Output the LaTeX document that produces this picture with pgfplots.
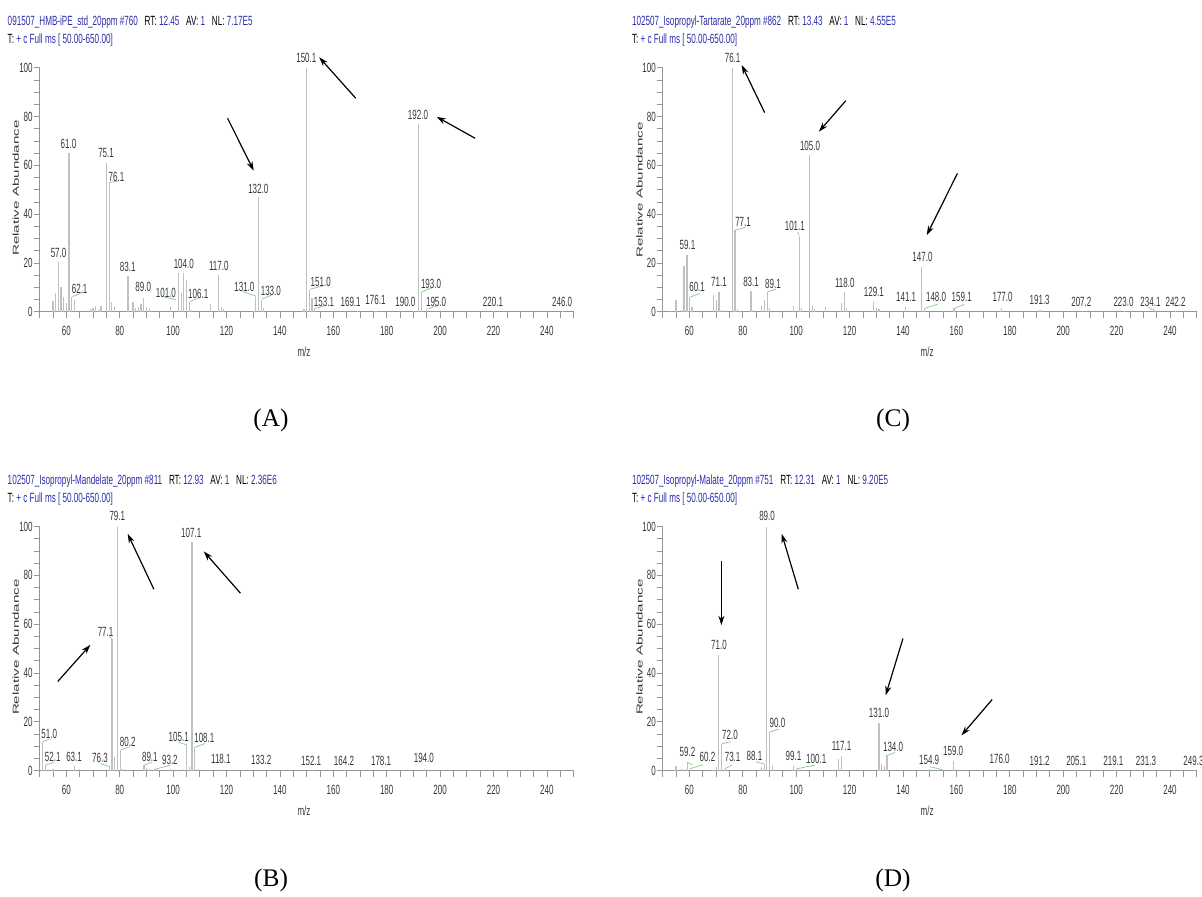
\documentclass[border=0pt]{standalone}
\usepackage{fontspec}
\setmainfont{Liberation Sans}
\newfontfamily\timesf{Liberation Serif}
\usepackage{pgfplots}
\pgfplotsset{compat=1.18}
\usetikzlibrary{arrows.meta}
\definecolor{ttlblue}{RGB}{45,45,170}
\definecolor{bargray}{RGB}{192,192,192}
\definecolor{axgray}{RGB}{150,150,150}
\definecolor{lblgray}{RGB}{55,55,55}
\definecolor{leadgreen}{RGB}{140,210,140}

\newcommand\cn[1]{\scalebox{0.6}[1]{#1}}
\newcommand\ttlA[3]{\scalebox{0.61}[1]{\textcolor{ttlblue}{#1}\ \ \ RT:\ \textcolor{ttlblue}{#2}\ \ \ AV:\ \textcolor{ttlblue}{1}\ \ \ NL:\ \textcolor{ttlblue}{#3}}}
\newcommand\ttlB{\scalebox{0.61}[1]{T:\ \textcolor{ttlblue}{+ c Full ms [ 50.00-650.00]}}}

\tikzset{
  plbl/.style={font=\fontsize{10}{10}\selectfont, text=lblgray, inner sep=0pt},
  arr/.style={-{Stealth[length=7pt,width=4.5pt]}, line width=0.9pt, black},
  lead/.style={leadgreen, line width=0.6pt},
}
\pgfplotsset{
  ms/.style={
    scale only axis, width=400.5pt, height=183pt,
    xmin=50, xmax=250, ymin=0, ymax=100,
    enlargelimits=false, clip=false,
    axis x line=bottom, axis y line=left,
    axis line style={-, axgray, line width=0.6pt},
    xtick={60,80,...,240}, minor xtick={50,55,...,250},
    ytick={0,20,...,100}, minor ytick={0,5,...,100},
    tick align=outside, major tick length=4.5pt, minor tick length=4.5pt,
    tick style={axgray, line width=0.5pt},
    /pgf/number format/assume math mode=true,
    tick label style={font=\fontsize{10}{10}\selectfont, text=lblgray, xscale=0.6},
    yticklabel style={inner sep=1pt},
    xticklabel style={inner sep=2pt, yshift=-4.5pt},
  },
  pk/.style={ycomb, no marks, color=bargray, line width=0.85pt},
}

\begin{document}
\begin{tikzpicture}
\useasboundingbox (0pt,0pt) rectangle (901.5pt,-672pt);

% ---------------- Panel A ----------------
\begin{axis}[ms, at={(29.7pt,-233.8pt)}, anchor=south west]
\addplot[pk] coordinates {(55,4.5)(56,7.8)(57,20.5)(58,10)(59,6)(60,3.4)(61,65)(62,6)(63,5)(69,1)(70,1.5)(71,2.5)(72,1)(73,2.5)(75.1,61)(76.1,53)(77,4)(78,1.8)(83.1,14.6)(85,4)(86,1.5)(87,2)(88,3)(89,5.5)(90,2)(91,1)(99,2)(102,15.7)(103,7.8)(104,15.7)(105,13)(106,4)(107,0.7)(114,3)(117,15)(118,2)(119,1)(130,0.5)(131,6)(132,47)(133,5)(134,1.5)(149,1)(150.1,100)(151,9)(152,5.5)(153,1.5)(169,0.4)(176,0.5)(190,0.4)(192,77)(193,8)(195,1)(220,0.3)(246,0.3)};
\draw[lead] (axis cs:62.3,6.2) -- (axis cs:65.5,7.6);
\draw[lead] (axis cs:76.3,53) -- (axis cs:79.5,53.6);
\draw[lead] (axis cs:96,6.2) -- (axis cs:101,5.0);
\draw[lead] (axis cs:106.3,4.2) -- (axis cs:110,5.8);
\draw[lead] (axis cs:126,8.3) -- (axis cs:131,6.4);
\draw[lead] (axis cs:133.3,5.2) -- (axis cs:137,6.9);
\draw[lead] (axis cs:151.3,9.2) -- (axis cs:156,10.6);
\draw[lead] (axis cs:153.3,1.4) -- (axis cs:157,2.6);
\draw[lead] (axis cs:193.3,8.2) -- (axis cs:197,9.9);
\draw[lead] (axis cs:195.3,1.1) -- (axis cs:199,2.5);
\node[plbl] at (axis cs:149.9,104.2) {\cn{150.1}};
\node[plbl] at (axis cs:191.7,80.6) {\cn{192.0}};
\node[plbl] at (axis cs:60.8,68.7) {\cn{61.0}};
\node[plbl] at (axis cs:74.9,64.9) {\cn{75.1}};
\node[plbl] at (axis cs:78.8,55.3) {\cn{76.1}};
\node[plbl] at (axis cs:131.9,50.5) {\cn{132.0}};
\node[plbl] at (axis cs:57.1,24.3) {\cn{57.0}};
\node[plbl] at (axis cs:83.0,18.4) {\cn{83.1}};
\node[plbl] at (axis cs:104.0,19.8) {\cn{104.0}};
\node[plbl] at (axis cs:117.1,18.9) {\cn{117.0}};
\node[plbl] at (axis cs:65.0,9.3) {\cn{62.1}};
\node[plbl] at (axis cs:88.8,10.0) {\cn{89.0}};
\node[plbl] at (axis cs:97.3,7.8) {\cn{101.0}};
\node[plbl] at (axis cs:109.4,7.5) {\cn{106.1}};
\node[plbl] at (axis cs:126.7,10.0) {\cn{131.0}};
\node[plbl] at (axis cs:136.6,8.6) {\cn{133.0}};
\node[plbl] at (axis cs:155.3,12.3) {\cn{151.0}};
\node[plbl] at (axis cs:156.5,4.1) {\cn{153.1}};
\node[plbl] at (axis cs:166.5,4.1) {\cn{169.1}};
\node[plbl] at (axis cs:175.8,4.8) {\cn{176.1}};
\node[plbl] at (axis cs:187.0,4.1) {\cn{190.0}};
\node[plbl] at (axis cs:196.6,11.6) {\cn{193.0}};
\node[plbl] at (axis cs:198.5,4.1) {\cn{195.0}};
\node[plbl] at (axis cs:219.8,4.1) {\cn{220.1}};
\node[plbl] at (axis cs:245.7,4.1) {\cn{246.0}};
\draw[arr] (axis cs:168.4,87.5) -- (axis cs:154.7,104.3);
\draw[arr] (axis cs:213.1,71.1) -- (axis cs:198.7,79.9);
\draw[arr] (axis cs:120.4,79.3) -- (axis cs:130.2,57.8);
\end{axis}

% ---------------- Panel C ----------------
\begin{axis}[ms, at={(497.0pt,-233.8pt)}, anchor=south west]
\addplot[pk] coordinates {(53,0.4)(55,5)(57,0.7)(58,18.7)(59.1,23.2)(60.1,6)(61,1.8)(69,7)(70,4.8)(71.1,8)(72,0.7)(73,0.7)(76.1,100)(77.1,33.5)(78,1)(79,0.5)(83.1,8.5)(84,0.7)(87,2.3)(88,5)(89.1,8.2)(90,1.4)(97,0.7)(99,2.3)(101.1,31)(102,1.4)(105,64.2)(106,2.7)(107,1)(111,2)(117,3.7)(118,8)(119,1.4)(129.1,4)(130,1.4)(131,1)(141.1,1.8)(147,18.5)(148,1.4)(159.1,1.4)(177,1.4)(191.3,0.6)(207.2,0.3)(223,0.3)(234.1,0.3)(242.2,0.3)};
\draw[lead] (axis cs:60.3,6) -- (axis cs:64,7.6);
\draw[lead] (axis cs:77.3,33.5) -- (axis cs:81,34.6);
\draw[lead] (axis cs:89.3,8.2) -- (axis cs:92.5,9.3);
\draw[lead] (axis cs:100.5,32.8) -- (axis cs:101.1,31.5);
\draw[lead] (axis cs:148.2,1.4) -- (axis cs:153,3.1);
\draw[lead] (axis cs:159.3,1.4) -- (axis cs:163,3.0);
\draw[lead] (axis cs:234.3,0.5) -- (axis cs:232,1.8);
\node[plbl] at (axis cs:76.2,104.2) {\cn{76.1}};
\node[plbl] at (axis cs:105.2,68.0) {\cn{105.0}};
\node[plbl] at (axis cs:80.1,36.9) {\cn{77.1}};
\node[plbl] at (axis cs:99.5,35.1) {\cn{101.1}};
\node[plbl] at (axis cs:59.3,27.3) {\cn{59.1}};
\node[plbl] at (axis cs:62.9,10.0) {\cn{60.1}};
\node[plbl] at (axis cs:71.1,12.3) {\cn{71.1}};
\node[plbl] at (axis cs:83.1,12.3) {\cn{83.1}};
\node[plbl] at (axis cs:91.3,11.6) {\cn{89.1}};
\node[plbl] at (axis cs:118.2,11.9) {\cn{118.0}};
\node[plbl] at (axis cs:129.1,8.2) {\cn{129.1}};
\node[plbl] at (axis cs:141.2,6.1) {\cn{141.1}};
\node[plbl] at (axis cs:147.3,22.5) {\cn{147.0}};
\node[plbl] at (axis cs:152.4,5.9) {\cn{148.0}};
\node[plbl] at (axis cs:162.0,5.9) {\cn{159.1}};
\node[plbl] at (axis cs:177.3,5.9) {\cn{177.0}};
\node[plbl] at (axis cs:191.2,4.8) {\cn{191.3}};
\node[plbl] at (axis cs:206.8,4.1) {\cn{207.2}};
\node[plbl] at (axis cs:222.6,4.1) {\cn{223.0}};
\node[plbl] at (axis cs:232.7,4.1) {\cn{234.1}};
\node[plbl] at (axis cs:242.1,4.1) {\cn{242.2}};
\draw[arr] (axis cs:88.2,81.6) -- (axis cs:79.6,101.1);
\draw[arr] (axis cs:118.6,86.5) -- (axis cs:108.5,73.8);
\draw[arr] (axis cs:160.4,56.7) -- (axis cs:148.9,31.4);
\end{axis}

% ---------------- Panel B ----------------
\begin{axis}[ms, at={(29.7pt,-577.9pt)}, anchor=south west]
\addplot[pk] coordinates {(51,11.9)(52.1,2.3)(55,0.5)(63.1,1.9)(65,0.5)(76.3,1.6)(77.1,54)(78,5.7)(79.1,100)(80.2,8.5)(81,0.8)(89.1,2.3)(90,1)(91,0.8)(93.2,0.5)(99,0.5)(104,0.6)(105.1,10.5)(106,1.6)(107.1,93.8)(108.1,9.6)(109,0.8)(118.1,0.5)(133.2,0.3)(152.1,0.3)(164.2,0.3)(178.1,0.3)(194,0.5)};
\draw[lead] (axis cs:51.2,11.9) -- (axis cs:54,13.0);
\draw[lead] (axis cs:52.3,2.3) -- (axis cs:55.5,3.4);
\draw[lead] (axis cs:76.3,1.6) -- (axis cs:73,2.8);
\draw[lead] (axis cs:77.1,54) -- (axis cs:76,55.2);
\draw[lead] (axis cs:80.4,8.5) -- (axis cs:84,9.8);
\draw[lead] (axis cs:89.3,2.3) -- (axis cs:92,3.4);
\draw[lead] (axis cs:93.2,0.5) -- (axis cs:99,2.2);
\draw[lead] (axis cs:105.1,10.5) -- (axis cs:102,11.6);
\draw[lead] (axis cs:108.3,9.6) -- (axis cs:112,11.1);
\node[plbl] at (axis cs:79.1,104.4) {\cn{79.1}};
\node[plbl] at (axis cs:106.8,97.5) {\cn{107.1}};
\node[plbl] at (axis cs:74.7,57.0) {\cn{77.1}};
\node[plbl] at (axis cs:53.6,15.0) {\cn{51.0}};
\node[plbl] at (axis cs:54.9,5.7) {\cn{52.1}};
\node[plbl] at (axis cs:62.9,5.7) {\cn{63.1}};
\node[plbl] at (axis cs:72.6,5.1) {\cn{76.3}};
\node[plbl] at (axis cs:83.0,11.9) {\cn{80.2}};
\node[plbl] at (axis cs:91.3,5.7) {\cn{89.1}};
\node[plbl] at (axis cs:98.8,4.4) {\cn{93.2}};
\node[plbl] at (axis cs:102.1,13.7) {\cn{105.1}};
\node[plbl] at (axis cs:111.7,13.3) {\cn{108.1}};
\node[plbl] at (axis cs:117.9,4.8) {\cn{118.1}};
\node[plbl] at (axis cs:133.0,4.4) {\cn{133.2}};
\node[plbl] at (axis cs:151.7,4.1) {\cn{152.1}};
\node[plbl] at (axis cs:164.0,4.1) {\cn{164.2}};
\node[plbl] at (axis cs:177.9,4.1) {\cn{178.1}};
\node[plbl] at (axis cs:193.9,5.1) {\cn{194.0}};
\draw[arr] (axis cs:92.8,74.3) -- (axis cs:83.0,97.0);
\draw[arr] (axis cs:125.2,72.7) -- (axis cs:111.5,89.8);
\draw[arr] (axis cs:56.8,36.5) -- (axis cs:69.0,51.5);
\end{axis}

% ---------------- Panel D ----------------
\begin{axis}[ms, at={(497.0pt,-577.9pt)}, anchor=south west]
\addplot[pk] coordinates {(55,2)(57,0.7)(59.2,3.4)(60.2,0.7)(69,0.3)(70,1.4)(71,47.3)(72,11)(73.1,0.7)(87,1.4)(88.1,2.7)(89,100)(90,15.8)(91,2)(99.1,2)(100.1,0.7)(116,4.8)(117.1,5.8)(131,19.5)(132,2.5)(133,2)(134,6.2)(150,0.7)(154.9,0.3)(159,4.1)(176,0.3)(191.2,0.3)(205.1,0.3)(219.1,0.3)(231.3,0.3)(249.3,0.3)};
\draw[lead] (axis cs:60.2,0.7) -- (axis cs:65,2.4);
\draw[lead] (axis cs:59.2,3.4) -- (axis cs:61,2.4);
\draw[lead] (axis cs:72.2,11) -- (axis cs:75.5,11.8);
\draw[lead] (axis cs:73.3,0.7) -- (axis cs:76,2.3);
\draw[lead] (axis cs:88.1,2.7) -- (axis cs:85,3.6);
\draw[lead] (axis cs:90.2,15.8) -- (axis cs:93.5,17.0);
\draw[lead] (axis cs:100.1,0.7) -- (axis cs:107,2.2);
\draw[lead] (axis cs:134.2,6.2) -- (axis cs:137,7.4);
\draw[lead] (axis cs:154.9,0.3) -- (axis cs:150,1.6);
\node[plbl] at (axis cs:89.1,104.4) {\cn{89.0}};
\node[plbl] at (axis cs:71.1,51.6) {\cn{71.0}};
\node[plbl] at (axis cs:131.0,23.7) {\cn{131.0}};
\node[plbl] at (axis cs:93.0,19.5) {\cn{90.0}};
\node[plbl] at (axis cs:75.2,14.4) {\cn{72.0}};
\node[plbl] at (axis cs:136.3,9.6) {\cn{134.0}};
\node[plbl] at (axis cs:117.0,10.0) {\cn{117.1}};
\node[plbl] at (axis cs:59.3,7.5) {\cn{59.2}};
\node[plbl] at (axis cs:66.8,5.5) {\cn{60.2}};
\node[plbl] at (axis cs:76.2,5.5) {\cn{73.1}};
\node[plbl] at (axis cs:84.4,6.2) {\cn{88.1}};
\node[plbl] at (axis cs:99.0,6.2) {\cn{99.1}};
\node[plbl] at (axis cs:107.5,4.8) {\cn{100.1}};
\node[plbl] at (axis cs:149.8,4.4) {\cn{154.9}};
\node[plbl] at (axis cs:158.8,8.2) {\cn{159.0}};
\node[plbl] at (axis cs:176.2,4.8) {\cn{176.0}};
\node[plbl] at (axis cs:191.2,4.1) {\cn{191.2}};
\node[plbl] at (axis cs:204.9,4.1) {\cn{205.1}};
\node[plbl] at (axis cs:218.8,4.1) {\cn{219.1}};
\node[plbl] at (axis cs:231.0,4.1) {\cn{231.3}};
\node[plbl] at (axis cs:248.8,4.1) {\cn{249.3}};
\draw[arr] (axis cs:72.0,86.0) -- (axis cs:72.0,59.6);
\draw[arr] (axis cs:100.8,74.3) -- (axis cs:94.6,97.0);
\draw[arr] (axis cs:140.0,54.1) -- (axis cs:133.5,30.8);
\draw[arr] (axis cs:173.4,29.1) -- (axis cs:161.9,14.4);
\end{axis}

% ---------------- Titles ----------------
\begin{scope}[every node/.style={anchor=west, inner sep=0pt, font=\fontsize{10}{10}\selectfont}]
\node at (5.6pt,-16.6pt) {\ttlA{091507\_HMB-iPE\_std\_20ppm \#760}{12.45}{7.17E5}};
\node at (5.6pt,-29.8pt) {\ttlB};
\node at (473.8pt,-16.6pt) {\ttlA{102507\_Isopropyl-Tartarate\_20ppm \#862}{13.43}{4.55E5}};
\node at (473.8pt,-29.8pt) {\ttlB};
\node at (5.6pt,-361pt) {\ttlA{102507\_Isopropyl-Mandelate\_20ppm \#811}{12.93}{2.36E6}};
\node at (5.6pt,-374.2pt) {\ttlB};
\node at (473.8pt,-361pt) {\ttlA{102507\_Isopropyl-Malate\_20ppm \#751}{12.31}{9.20E5}};
\node at (473.8pt,-374.2pt) {\ttlB};
\end{scope}

% ---------------- Axis labels ----------------
\begin{scope}[every node/.style={inner sep=0pt, text=lblgray}]
\node[rotate=90, font=\fontsize{6.5}{6.5}\selectfont] at (11.8pt,-141pt) {\scalebox{1.75}[1]{Relative Abundance}};
\node[rotate=90, font=\fontsize{6.5}{6.5}\selectfont] at (479.7pt,-142.5pt) {\scalebox{1.75}[1]{Relative Abundance}};
\node[rotate=90, font=\fontsize{6.5}{6.5}\selectfont] at (11.8pt,-485.3pt) {\scalebox{1.75}[1]{Relative Abundance}};
\node[rotate=90, font=\fontsize{6.5}{6.5}\selectfont] at (479.7pt,-485.3pt) {\scalebox{1.75}[1]{Relative Abundance}};
\node[font=\fontsize{10}{10}\selectfont] at (228pt,-264pt) {\cn{m/z}};
\node[font=\fontsize{10}{10}\selectfont] at (695.3pt,-264pt) {\cn{m/z}};
\node[font=\fontsize{10}{10}\selectfont] at (228pt,-608.3pt) {\cn{m/z}};
\node[font=\fontsize{10}{10}\selectfont] at (695.3pt,-608.3pt) {\cn{m/z}};
\end{scope}

% ---------------- Captions ----------------
\begin{scope}[every node/.style={inner sep=0pt, font=\timesf\fontsize{19}{19}\selectfont}]
\node at (203.3pt,-315pt) {(A)};
\node at (669.8pt,-315pt) {(C)};
\node at (203.3pt,-660pt) {(B)};
\node at (669.8pt,-660pt) {(D)};
\end{scope}
\end{tikzpicture}
\end{document}
